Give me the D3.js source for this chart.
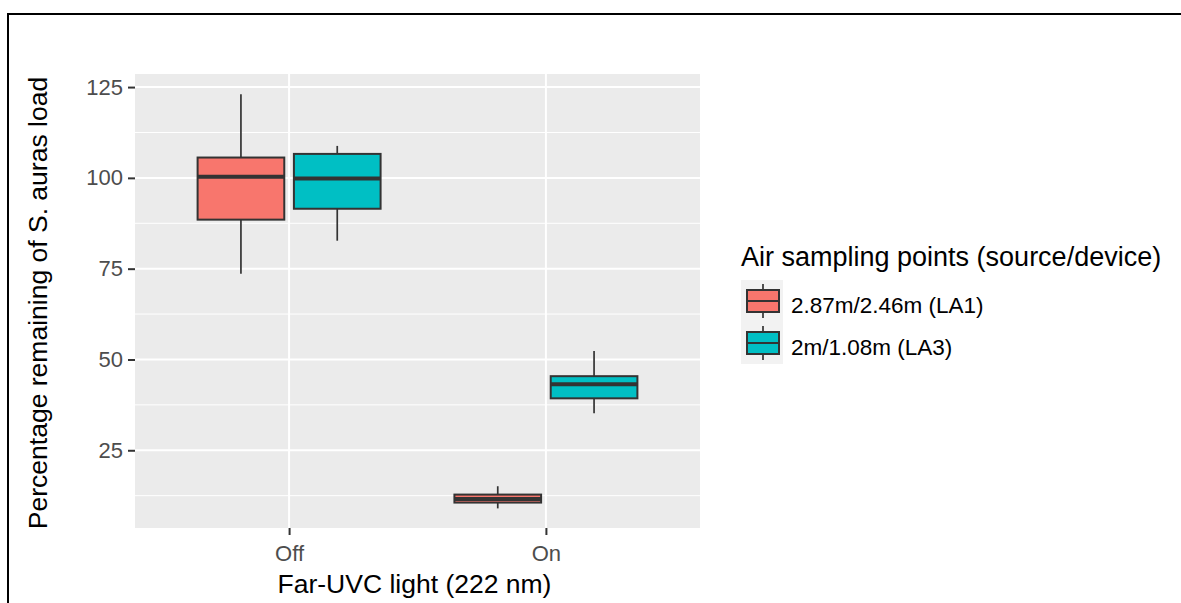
<!DOCTYPE html>
<html>
<head>
<meta charset="utf-8">
<script src="https://cdn.jsdelivr.net/npm/d3@7"></script>
<style>
  body { margin: 0; background: #fff; }
  svg { display: block; font-family: "Liberation Sans", Arial, sans-serif; }
</style>
</head>
<body>
<div id="chart"></div>
<script>
// data
const lights = ["Off", "On"];
const points = ["2.87m/2.46m (LA1)", "2m/1.08m (LA3)"];
const colours = ["#F8766D", "#00BFC4"];
const yTicks = [25, 50, 75, 100, 125];

// [lower whisker, q1, median, q3, upper whisker]
const la1Stats = [[73.6, 88.5, 100.3, 105.6, 123.0], [9.0, 10.6, 11.6, 12.8, 15.1]];
const la3Stats = [[82.7, 91.5, 99.8, 106.6, 108.8], [35.2, 39.3, 43.2, 45.4, 52.3]];

var width = 1181, height = 603;
var margin = {top: 74, right: 481, bottom: 75, left: 135};

var svg = d3.select("#chart").append("svg")
  .attr("width", width)
  .attr("height", height);

// frame lines at top and left
svg.append("line").attr("x1", 7).attr("x2", width).attr("y1", 14).attr("y2", 14)
  .attr("stroke", "#000").attr("stroke-width", 2);
svg.append("line").attr("x1", 8).attr("x2", 8).attr("y1", 14).attr("y2", height)
  .attr("stroke", "#000").attr("stroke-width", 2);

// ggplot discrete scale: centers at 0.6 units from each edge
var unit = (width - margin.right - margin.left) / 2.2;
var xc = d => margin.left + unit * (0.6 + lights.indexOf(d));

var y = d3.scaleLinear()
  .domain([3.6, 128.6])
  .range([height - margin.bottom, margin.top]);

// panel
svg.append("rect")
  .attr("x", margin.left).attr("y", margin.top)
  .attr("width", width - margin.right - margin.left)
  .attr("height", height - margin.bottom - margin.top)
  .attr("fill", "#EBEBEB");

var grid = svg.append("g");
var minor = [12.5, 37.5, 62.5, 87.5, 112.5];
grid.selectAll(".minor").data(minor).enter().append("line")
  .attr("x1", margin.left).attr("x2", width - margin.right)
  .attr("y1", d => y(d)).attr("y2", d => y(d))
  .attr("stroke", "#fff").attr("stroke-width", 1);
grid.selectAll(".major").data(yTicks).enter().append("line")
  .attr("x1", margin.left).attr("x2", width - margin.right)
  .attr("y1", d => y(d)).attr("y2", d => y(d))
  .attr("stroke", "#fff").attr("stroke-width", 2);
grid.selectAll(".xmajor").data(lights).enter().append("line")
  .attr("x1", d => xc(d)).attr("x2", d => xc(d))
  .attr("y1", margin.top).attr("y2", height - margin.bottom)
  .attr("stroke", "#fff").attr("stroke-width", 2);

// axes
var yAxis = svg.append("g")
  .attr("transform", `translate(${margin.left},0)`)
  .call(d3.axisLeft(y).tickValues(yTicks).tickSize(7).tickPadding(5));
var xAxis = svg.append("g")
  .attr("transform", `translate(0,${height - margin.bottom})`)
  .call(d3.axisBottom(d3.scaleOrdinal().domain(lights).range(lights.map(xc)))
    .tickSize(7).tickPadding(10));
[yAxis, xAxis].forEach(function(a) {
  a.select(".domain").remove();
  a.selectAll(".tick line").attr("stroke", "#333").attr("stroke-width", 2);
  a.selectAll(".tick text").attr("fill", "#4D4D4D").style("font-size", "22px")
    .style("font-family", "\"Liberation Sans\", Arial, sans-serif");
});

// boxes
var boxW = 0.3375 * unit;
var series = [la1Stats, la3Stats];
series.forEach(function(stats, s) {
  lights.forEach(function(l, i) {
    var st = stats[i];
    var cx = xc(l) + (s === 0 ? -1 : 1) * 0.1875 * unit;
    var g = svg.append("g");
    g.append("line").attr("x1", cx).attr("x2", cx)
      .attr("y1", y(st[4])).attr("y2", y(st[3]))
      .attr("stroke", "#333").attr("stroke-width", 1.7);
    g.append("line").attr("x1", cx).attr("x2", cx)
      .attr("y1", y(st[1])).attr("y2", y(st[0]))
      .attr("stroke", "#333").attr("stroke-width", 1.7);
    g.append("rect")
      .attr("x", cx - boxW / 2).attr("width", boxW)
      .attr("y", y(st[3])).attr("height", y(st[1]) - y(st[3]))
      .attr("fill", colours[s]).attr("stroke", "#333").attr("stroke-width", 2);
    g.append("line").attr("x1", cx - boxW / 2).attr("x2", cx + boxW / 2)
      .attr("y1", y(st[2])).attr("y2", y(st[2]))
      .attr("stroke", "#333").attr("stroke-width", 4);
  });
});

// axis titles
svg.append("text")
  .attr("x", (margin.left + width - margin.right) / 2 - 3)
  .attr("y", 593)
  .attr("text-anchor", "middle")
  .style("font-size", "26.5px")
  .attr("fill", "#000")
  .text("Far-UVC light (222 nm)");

svg.append("text")
  .attr("transform", `translate(47,${(margin.top + height - margin.bottom) / 2 + 2}) rotate(-90)`)
  .attr("text-anchor", "middle")
  .style("font-size", "26.5px")
  .attr("fill", "#000")
  .text("Percentage remaining of S. auras load");

// legend
var legend = svg.append("g").attr("transform", "translate(741,0)");
legend.append("text")
  .attr("x", 0).attr("y", 266)
  .style("font-size", "27px")
  .text("Air sampling points (source/device)");

var keyH = 42;
var items = legend.selectAll(".item").data(points).enter().append("g")
  .attr("transform", (d, i) => `translate(0,${280 + i * keyH})`);
items.append("rect")
  .attr("width", 42).attr("height", keyH)
  .attr("fill", "#F2F2F2");
items.append("line")
  .attr("x1", 22).attr("x2", 22).attr("y1", 4).attr("y2", keyH - 4)
  .attr("stroke", "#333").attr("stroke-width", 1.7);
items.append("rect")
  .attr("x", 6).attr("y", 10).attr("width", 32).attr("height", keyH - 20)
  .attr("fill", (d, i) => colours[i]).attr("stroke", "#333").attr("stroke-width", 2);
items.append("line")
  .attr("x1", 6).attr("x2", 38).attr("y1", keyH / 2).attr("y2", keyH / 2)
  .attr("stroke", "#333").attr("stroke-width", 2);
items.append("text")
  .attr("x", 50).attr("y", 33)
  .style("font-size", "22.5px")
  .text(d => d);
</script>
</body>
</html>
